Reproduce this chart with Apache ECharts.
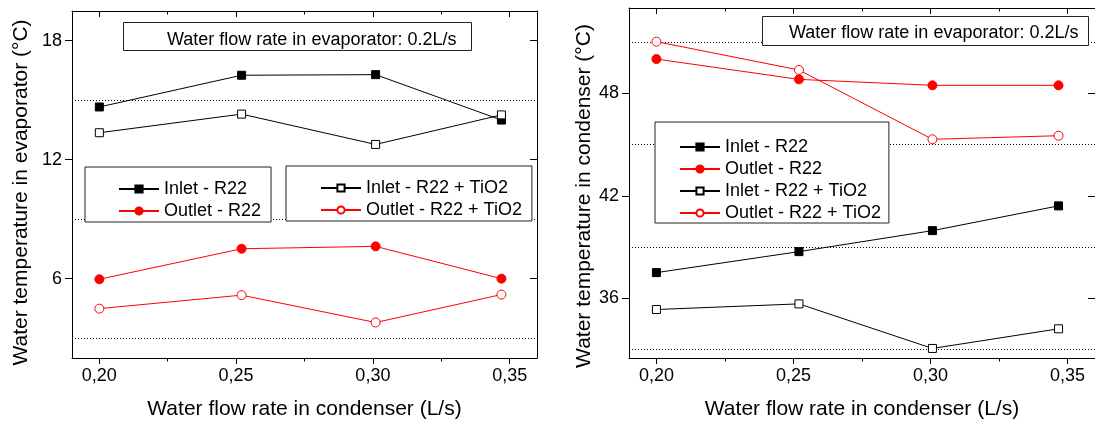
<!DOCTYPE html>
<html>
<head>
<meta charset="utf-8">
<script src="https://cdn.jsdelivr.net/npm/echarts@6.0.0/dist/echarts.min.js"></script>
<style>
  html, body { margin: 0; padding: 0; background: #fff; }
  #container { width: 1095px; height: 425px; }
</style>
</head>
<body>
<div id="container"></div>
<script>
// 数据：左图（蒸发器水温），右图（冷凝器水温）
var flowEvap = [0.200, 0.252, 0.301, 0.347];
var flowCond = [0.200, 0.252, 0.3007, 0.3467];

var inletR22Evap   = [14.66, 16.26, 16.29, 14.00];
var outletR22Evap  = [5.97, 7.51, 7.63, 6.00];
var inletTiO2Evap  = [13.36, 14.30, 12.77, 14.26];
var outletTiO2Evap = [4.49, 5.17, 3.79, 5.20];

var inletR22Cond   = [37.50, 38.73, 39.96, 41.41];
var outletR22Cond  = [50.01, 48.82, 48.47, 48.47];
var inletTiO2Cond  = [35.34, 35.67, 33.06, 34.21];
var outletTiO2Cond = [51.03, 49.37, 45.31, 45.52];

var xMajor = [0.20, 0.25, 0.30, 0.35];
var xMinor = [0.225, 0.275, 0.325];
var yTicksEvap = [6, 12, 18];
var yTicksCond = [36, 42, 48];
var dotLinesEvap = [3, 9, 15];
var dotLinesCond = [33, 39, 45, 51];

var names = ['Inlet - R22', 'Outlet - R22', 'Inlet - R22 + TiO2', 'Outlet - R22 + TiO2'];
var FONT = 'Liberation Sans';

function pairs(xs, ys) {
  return xs.map(function (x, i) { return [x, ys[i]]; });
}

function mkSeries(name, xs, ys, color, symbol, filled, g) {
  return {
    name: name,
    type: 'line',
    xAxisIndex: g * 4,
    yAxisIndex: g * 2,
    data: pairs(xs, ys),
    symbol: symbol,
    symbolSize: symbol === 'circle' ? 9 : 8,
    lineStyle: { color: color, width: 1 },
    itemStyle: { color: filled ? color : '#fff', borderColor: color, borderWidth: 1 },
    emphasis: { disabled: true },
    animation: false
  };
}

// 虚线网格（3, 9, 15 / 33, 39, 45, 51）
function dotLines(vals) {
  return {
    silent: true,
    z: 1,
    symbol: 'none',
    label: { show: false },
    lineStyle: { type: [1, 2], color: '#000', width: 1 },
    data: vals.map(function (v) { return { yAxis: v }; }),
    animation: false
  };
}

function fmt(v) { return v.toFixed(2).replace('.', ','); }

var lineBlack = { show: true, onZero: false, lineStyle: { color: '#000', width: 1 } };

function xAxes(g) {
  var base = { type: 'value', gridIndex: g, min: 0.19, max: 0.36, splitLine: { show: false } };
  return [
    Object.assign({}, base, {
      position: 'bottom', axisLine: lineBlack,
      axisTick: { customValues: xMajor, length: 6, lineStyle: { color: '#000' } },
      axisLabel: { customValues: xMajor, formatter: fmt, fontSize: 18, color: '#000', fontFamily: FONT, margin: 9 },
      name: 'Water flow rate in condenser (L/s)', nameLocation: 'middle', nameGap: 41,
      nameTextStyle: { fontSize: 21, color: '#000', fontFamily: FONT }
    }),
    Object.assign({}, base, {
      position: 'bottom', axisLine: { show: false },
      axisTick: { customValues: xMinor, length: 3.5, lineStyle: { color: '#000' } },
      axisLabel: { show: false }
    }),
    Object.assign({}, base, {
      position: 'top', axisLine: lineBlack,
      axisTick: { customValues: xMajor, inside: true, length: 6, lineStyle: { color: '#000' } },
      axisLabel: { show: false }
    }),
    Object.assign({}, base, {
      position: 'top', axisLine: { show: false },
      axisTick: { customValues: xMinor, inside: true, length: 3.5, lineStyle: { color: '#000' } },
      axisLabel: { show: false }
    })
  ];
}

function yAxes(g, min, max, ticks, title, shift) {
  var base = { type: 'value', gridIndex: g, min: min, max: max, splitLine: { show: false } };
  return [
    Object.assign({}, base, {
      position: 'left', axisLine: lineBlack,
      axisTick: { customValues: ticks, length: 7, lineStyle: { color: '#000' } },
      axisLabel: { customValues: ticks, fontSize: 18, color: '#000', fontFamily: FONT, margin: 10 },
      name: title, nameLocation: 'middle', nameGap: g === 0 ? 40 : 30,
      nameTextStyle: { fontSize: 21, color: '#000', fontFamily: FONT, padding: [0, shift, 0, 0] }
    }),
    Object.assign({}, base, {
      position: 'right', axisLine: lineBlack,
      axisTick: { customValues: ticks, inside: true, length: 7, lineStyle: { color: '#000' } },
      axisLabel: { show: false }
    })
  ];
}

function legendBox(data, left, top, pad) {
  return {
    data: data, orient: 'vertical', left: left, top: top, z: 20,
    padding: pad, itemGap: 4, itemWidth: 40, itemHeight: 9,
    backgroundColor: '#fff', borderColor: '#222', borderWidth: 1, borderRadius: 0,
    selectedMode: false,
    textStyle: { fontSize: 18, color: '#000', fontFamily: FONT, lineHeight: 18 }
  };
}

function noteBox(left, top, pad) {
  return {
    text: 'Water flow rate in evaporator: 0.2L/s',
    left: left, top: top, padding: pad, z: 20,
    backgroundColor: '#fff', borderColor: '#222', borderWidth: 1,
    textStyle: { fontSize: 18, fontWeight: 'normal', color: '#000', fontFamily: FONT, lineHeight: 18 }
  };
}

var s0 = mkSeries(names[0], flowEvap, inletR22Evap, '#000', 'rect', true, 0);
s0.markLine = dotLines(dotLinesEvap);
var s4 = mkSeries(names[0], flowCond, inletR22Cond, '#000', 'rect', true, 1);
s4.markLine = dotLines(dotLinesCond);

var myChart = echarts.init(document.getElementById('container'), null, { renderer: 'canvas' });
myChart.setOption({
  animation: false,
  backgroundColor: '#fff',
  title: [noteBox(123, 22, [9, 15, 2, 44]), noteBox(762, 16, [8, 10, 4, 27])],
  legend: [
    legendBox([names[0], names[1]], 85, 167, [13, 10, 2, 33]),
    legendBox([names[2], names[3]], 286, 166, [13, 10, 2, 34]),
    legendBox(names, 655, 122, [16, 8, 1, 24])
  ],
  grid: [
    { left: 72, top: 11, width: 465, height: 347 },
    { left: 629, top: 8, width: 471, height: 350 }
  ],
  xAxis: xAxes(0).concat(xAxes(1)),
  yAxis: yAxes(0, 2, 19.5, yTicksEvap, 'Water temperature in evaporator (°C)', 16)
    .concat(yAxes(1, 32.5, 53, yTicksCond, 'Water temperature in condenser (°C)', 26)),
  series: [
    s0,
    mkSeries(names[1], flowEvap, outletR22Evap, '#ff0000', 'circle', true, 0),
    mkSeries(names[2], flowEvap, inletTiO2Evap, '#000', 'rect', false, 0),
    mkSeries(names[3], flowEvap, outletTiO2Evap, '#ff0000', 'circle', false, 0),
    s4,
    mkSeries(names[1], flowCond, outletR22Cond, '#ff0000', 'circle', true, 1),
    mkSeries(names[2], flowCond, inletTiO2Cond, '#000', 'rect', false, 1),
    mkSeries(names[3], flowCond, outletTiO2Cond, '#ff0000', 'circle', false, 1)
  ]
});
</script>
</body>
</html>
